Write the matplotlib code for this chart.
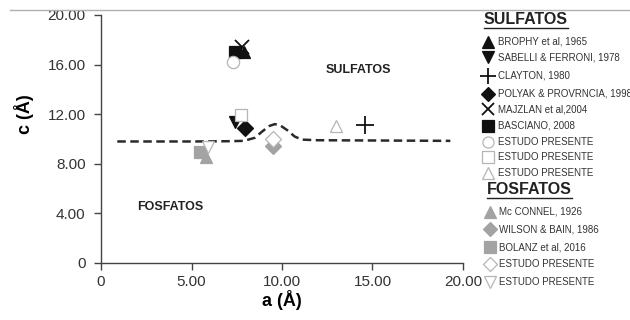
import numpy as np
import matplotlib.pyplot as plt
from matplotlib.lines import Line2D

plt.rcParams['font.family'] = ['Liberation Sans', 'DejaVu Sans']

# ======================
# data
# ======================
# sulfatos
brophy = (7.9, 17.0)
sabelli = (7.4, 11.4)
clayton = (14.6, 11.1)
polyak = (7.95, 10.9)
majzlan = (7.8, 17.4)
basciano = (7.4, 17.05)
estudo_circ = (7.3, 16.2)
estudo_sq = (7.75, 11.9)
estudo_tri = (13.0, 11.05)
# fosfatos
mcconnel = (5.8, 8.55)
wilson = (9.5, 9.45)
bolanz = (5.45, 8.95)
estudo_dia = (9.5, 10.0)
estudo_itri = (5.9, 9.35)

# dashed separation line
line_x = [0.9, 3.0, 5.0, 7.0, 7.9, 8.5, 8.9, 9.3, 9.6, 9.9, 10.3, 10.7, 11.1, 12.0, 15.0, 19.3]
line_y = [9.8, 9.8, 9.8, 9.82, 9.85, 10.1, 10.6, 11.05, 11.2, 11.1, 10.7, 10.2, 9.95, 9.9, 9.88, 9.85]

xticks = [0, 5, 10, 15, 20]
xtick_labels = ["0", "5.00", "10.00", "15.00", "20.00"]
yticks = [0, 4, 8, 12, 16, 20]
ytick_labels = ["0", "4.00", "8.00", "12.00", "16.00", "20.00"]

BLK = "#111111"
GRY = "#a3a3a3"
OPN = "#b5b5b5"

# label, marker, face, edge, size
sulf_legend = [
    ("BROPHY et al, 1965", "^", BLK, BLK, 8),
    ("SABELLI & FERRONI, 1978", "v", BLK, BLK, 8),
    ("CLAYTON, 1980", "+", BLK, BLK, 12),
    ("POLYAK & PROVRNCIA, 1998", "D", BLK, BLK, 7),
    ("MAJZLAN et al,2004", "x", BLK, BLK, 9),
    ("BASCIANO, 2008", "s", BLK, BLK, 8),
    ("ESTUDO PRESENTE", "o", "white", OPN, 8),
    ("ESTUDO PRESENTE", "s", "white", OPN, 8),
    ("ESTUDO PRESENTE", "^", "white", OPN, 8),
]
fosf_legend = [
    ("Mc CONNEL, 1926", "^", GRY, GRY, 8),
    ("WILSON & BAIN, 1986", "D", GRY, GRY, 7),
    ("BOLANZ et al, 2016", "s", GRY, GRY, 8),
    ("ESTUDO PRESENTE", "D", "white", OPN, 7),
    ("ESTUDO PRESENTE", "v", "white", OPN, 8),
]
sulf_points = [brophy, sabelli, clayton, polyak, majzlan, basciano,
               estudo_circ, estudo_sq, estudo_tri]
fosf_points = [mcconnel, wilson, bolanz, estudo_dia, estudo_itri]

# ======================
# figure
# ======================
fig = plt.figure(figsize=(6.3, 3.2), dpi=100)
ax = fig.add_axes([101 / 630, 57 / 320, 362 / 630, 248 / 320])

ax.plot(line_x, line_y, color="#2a2a2a", lw=1.8, dashes=[3.4, 1.8], zorder=1)

for (lab, m, fc, ec, ms), (px, py) in zip(fosf_legend + sulf_legend,
                                          fosf_points + sulf_points):
    mew = 1.3 if m in "+x" else 0.9
    ax.plot(px, py, marker=m, ms=ms * 1.1, mfc=fc, mec=ec, mew=mew,
            ls="none", zorder=3)

ax.text(14.2, 15.6, "SULFATOS", fontsize=9, fontweight="bold",
        ha="center", va="center", color="#222222")
ax.text(3.8, 4.5, "FOSFATOS", fontsize=9, fontweight="bold",
        ha="center", va="center", color="#222222")

ax.set_xlim(0, 20)
ax.set_ylim(0, 20)
ax.set_xticks(xticks)
ax.set_xticklabels(xtick_labels)
ax.set_yticks(yticks)
ax.set_yticklabels(ytick_labels)
for s in ["top", "right"]:
    ax.spines[s].set_visible(False)
for s in ["left", "bottom"]:
    ax.spines[s].set_color("#444444")
    ax.spines[s].set_linewidth(1.0)
ax.tick_params(labelsize=11, colors="#444444", labelcolor="#333333",
               length=5, width=1.0)
ax.tick_params(axis="y", pad=6)
ax.set_xlabel("a (Å)", fontsize=13, fontweight="bold", labelpad=1)
ax.set_ylabel("c (Å)", fontsize=13, fontweight="bold")
ax.yaxis.set_label_coords(-0.185, 0.6)

# top grey border line
fig.add_artist(Line2D([10 / 630, 1], [1 - 10 / 320, 1 - 10 / 320],
                      color="#b0b0b0", lw=1.0))

# ======================
# legend (pixel coords)
# ======================
lg = fig.add_axes([0, 0, 1, 1], facecolor="none")
lg.set_xlim(0, 630)
lg.set_ylim(320, 0)
lg.axis("off")

sulf_rows = [42, 57, 76, 94, 109, 126, 142, 157, 173]
fosf_rows = [212, 229, 247, 264, 282]

def header(x, y, txt):
    t = lg.text(x, y, txt, fontsize=11.5, fontweight="bold",
                ha="left", va="center", color="#222222")
    fig.canvas.draw()
    bb = t.get_window_extent()
    lg.plot([x, x + bb.width], [y + 7.5, y + 7.5], color="#222222", lw=1.0)

header(484, 20, "SULFATOS")
header(487, 190, "FOSFATOS")

for (lab, m, fc, ec, ms), y in zip(sulf_legend, sulf_rows):
    mew = 1.3 if m in "+x" else 0.9
    lg.plot(488, y, marker=m, ms=ms, mfc=fc, mec=ec, mew=mew, ls="none")
    lg.text(498, y, lab, fontsize=7, va="center", ha="left", color="#333333")
for (lab, m, fc, ec, ms), y in zip(fosf_legend, fosf_rows):
    lg.plot(490, y, marker=m, ms=ms, mfc=fc, mec=ec, mew=0.9, ls="none")
    lg.text(499, y, lab, fontsize=7, va="center", ha="left", color="#333333")

fig.savefig("out.png", dpi=100)
